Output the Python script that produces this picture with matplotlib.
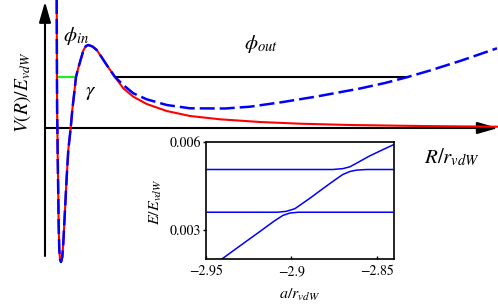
import matplotlib
matplotlib.use('Agg')
import matplotlib.pyplot as plt
import numpy as np

plt.rcParams['font.family'] = ['STIXGeneral', 'DejaVu Serif']
plt.rcParams['mathtext.fontset'] = 'stix'

# main potential (R/r_vdW, V/E_vdW), shared inner part up to the barrier
r_inner = [0.230, 0.234, 0.238, 0.242, 0.248, 0.254, 0.266, 0.274, 0.286, 0.300,
           0.320, 0.346, 0.366, 0.400, 0.434, 0.466, 0.514, 0.546, 0.580, 0.620,
           0.660, 0.700, 0.770, 0.820, 0.866, 0.950, 1.034, 1.130, 1.234, 1.400]
v_inner = [2.66, 2.56, 1.36, 0.36, 0.00, -0.58, -1.38, -1.98, -2.44, -2.62,
           -2.68, -2.58, -2.30, -1.64, -0.98, -0.44, 0.00, 0.36, 0.66, 1.02,
           1.18, 1.32, 1.56, 1.64, 1.66, 1.63, 1.56, 1.42, 1.26, 1.02]
# free space tail (red)
r_free = [1.566, 1.766, 2.034, 2.434, 2.90, 3.50, 4.30, 5.10, 6.10, 7.50, 9.04]
v_free = [0.794, 0.626, 0.480, 0.340, 0.240, 0.174, 0.120, 0.086, 0.060, 0.040, 0.026]
# trapped tail (blue dashed)
r_trap = [1.566, 1.766, 2.034, 2.434, 2.90, 3.60, 4.10, 4.76, 5.434, 6.30, 6.80,
          7.234, 7.70, 8.30, 9.04]
v_trap = [0.860, 0.694, 0.574, 0.460, 0.394, 0.390, 0.426, 0.520, 0.630, 0.790, 0.900,
          1.014, 1.150, 1.340, 1.594]

level_E = 1.02
green_r = [0.232, 0.620]
black_r = [1.400, 7.234]

# inset: avoided crossings
a_low = [-2.9408, -2.9300, -2.9184, -2.9100, -2.9050, -2.9010, -2.8960, -2.8400]
e_low = [0.00200, 0.00246, 0.00295, 0.00331, 0.00350, 0.00358, 0.00361, 0.00361]
a_mid = [-2.9500, -2.9080, -2.9030, -2.8980, -2.8894, -2.8797, -2.8740, -2.8700,
         -2.8660, -2.8620, -2.8560, -2.8400]
e_mid = [0.00361, 0.00361, 0.00364, 0.00373, 0.00408, 0.00450, 0.00474, 0.00490,
         0.00500, 0.00505, 0.00507, 0.00507]
a_up = [-2.9500, -2.8760, -2.8700, -2.8660, -2.8622, -2.8545, -2.8470, -2.8400]
e_up = [0.00507, 0.00507, 0.00510, 0.00516, 0.00528, 0.00553, 0.00574, 0.00593]

W, H = 498, 308
fig = plt.figure(figsize=(W / 100, H / 100), dpi=100)
ax = fig.add_axes([0, 0, 1, 1])
ax.set_xlim(-45 / 50, (W - 45) / 50)
ax.set_ylim((128 - H) / 50, 128 / 50)
ax.axis('off')

# axes arrows
arr = dict(arrowstyle='-|>,head_length=1.25,head_width=0.36', lw=1.5, color='k',
           mutation_scale=10, shrinkA=0, shrinkB=0)
ax.annotate('', xy=(0, (128 - 1.7) / 50), xytext=(0, (128 - 256) / 50), arrowprops=arr)
ax.annotate('', xy=((W - 45) / 50, 0), xytext=(0, 0), arrowprops=arr)

r_red = np.concatenate([r_inner, r_free])
v_red = np.concatenate([v_inner, v_free])
r_blue = np.concatenate([r_inner, r_trap])
v_blue = np.concatenate([v_inner, v_trap])

ax.plot(black_r, [level_E, level_E], color='k', lw=1.5, zorder=2)
ax.plot(green_r, [level_E, level_E], color='#22ee22', lw=1.6, zorder=2)
ax.plot(r_red, v_red, color='#ff0000', lw=1.5, zorder=3)
ax.plot(r_blue, v_blue, color='#0000ff', lw=1.8, dashes=(6, 2), zorder=4)


def px(x, y):
    return x / W, 1 - y / H


fig.text(*px(76, 36), r'$\phi_{in}$', fontsize=15, ha='center', va='center')
fig.text(*px(261, 44), r'$\phi_{out}$', fontsize=15, ha='center', va='center')
fig.text(*px(91, 92), r'$\gamma$', fontsize=15, ha='center', va='center')
fig.text(*px(452, 157), r'$R/r_{vdW}$', fontsize=15, ha='center', va='center')
fig.text(*px(23, 92), r'$V(R)/E_{vdW}$', fontsize=14, ha='center', va='center',
         rotation=90)

# inset
ins = fig.add_axes([205.7 / W, 1 - 259.3 / H, 188.6 / W, 117 / H])
ins.plot(a_low, e_low, color='#0000ff', lw=1.1)
ins.plot(a_mid, e_mid, color='#0000ff', lw=1.1)
ins.plot(a_up, e_up, color='#0000ff', lw=1.1)
ins.set_xlim(-2.95, -2.84)
ins.set_ylim(0.002, 0.006)
ins.set_xticks([-2.95, -2.9, -2.85])
ins.set_xticklabels(['\u22122.95', '\u22122.9', '\u22122.85'])
ins.set_yticks([0.003, 0.006])
ins.set_yticklabels(['0.003', '0.006'])
ins.tick_params(axis='x', direction='in', length=2.5, width=1, pad=4, labelsize=10)
ins.tick_params(axis='y', direction='out', length=2.5, width=1, pad=1, labelsize=10)
for s in ins.spines.values():
    s.set_linewidth(1.2)
ins.text(-0.265, 0.49, r'$E/E_{vdW}$', transform=ins.transAxes, rotation=90,
         ha='center', va='center', fontsize=11.5)
ins.text(0.5, -0.305, r'$a/r_{vdW}$', transform=ins.transAxes,
         ha='center', va='center', fontsize=11.5)

fig.savefig('out.png', dpi=100)
